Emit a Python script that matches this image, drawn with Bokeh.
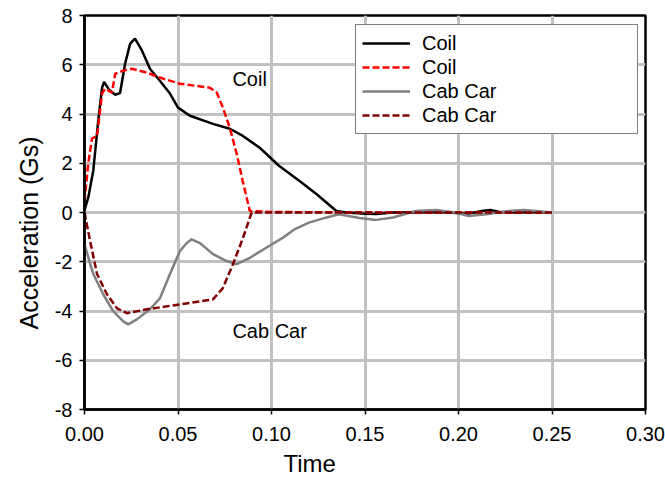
from bokeh.plotting import figure
from bokeh.models import FixedTicker, NumeralTickFormatter, Legend, LegendItem, Label, Title
from bokeh.embed import file_html
from bokeh.resources import INLINE

# Coil (measured, solid)
coil_t = [0, 0.002, 0.0047, 0.0073, 0.0094, 0.0105, 0.013, 0.0164, 0.019, 0.0217, 0.0244, 0.027,
          0.0307, 0.035, 0.0403, 0.0457, 0.05, 0.0564, 0.0687, 0.0777, 0.0847, 0.0937, 0.104, 0.115,
          0.124, 0.1347, 0.14, 0.15, 0.156, 0.165, 0.175, 0.185, 0.195, 0.205, 0.2125, 0.217, 0.222,
          0.23, 0.24, 0.25]
coil_a = [0.1, 0.6, 1.7, 3.7, 5.07, 5.3, 5.0, 4.78, 4.85, 6.04, 6.86, 7.06,
          6.58, 5.84, 5.35, 4.83, 4.26, 3.93, 3.6, 3.4, 3.11, 2.63, 1.9, 1.28,
          0.75, 0.06, 0.0, -0.05, -0.06, 0.0, 0.0, 0.02, 0.0, -0.05, 0.06, 0.1, 0.02,
          0.0, 0.02, 0.0]

# Coil (model, dashed)
coil2_t = [0, 0.002, 0.004, 0.0067, 0.0094, 0.011, 0.0147, 0.0164, 0.0207, 0.0254, 0.0334, 0.0403,
           0.051, 0.067, 0.0707, 0.074, 0.0777, 0.0814, 0.0846, 0.0884, 0.1, 0.15, 0.2, 0.25]
coil2_a = [0.45, 2.0, 3.0, 3.1, 4.83, 5.03, 4.87, 5.63, 5.76, 5.84, 5.68, 5.48,
           5.23, 5.07, 4.87, 4.26, 3.44, 2.38, 1.28, 0.06, 0.02, 0.0, 0.0, 0.0]

# Cab Car (measured, solid)
cab_t = [0, 0.0047, 0.01, 0.0153, 0.0207, 0.0234, 0.028, 0.035, 0.0403, 0.0457, 0.051, 0.0547,
         0.0573, 0.0617, 0.0687, 0.076, 0.0814, 0.0884, 0.0972, 0.106, 0.112, 0.120, 0.129, 0.136,
         0.147, 0.156, 0.165, 0.177, 0.188, 0.198, 0.2056, 0.216, 0.225, 0.235, 0.243, 0.25]
cab_a = [-1.3, -2.5, -3.32, -4.0, -4.42, -4.54, -4.34, -3.93, -3.49, -2.5, -1.57, -1.24,
         -1.09, -1.24, -1.69, -1.97, -2.1, -1.84, -1.43, -1.03, -0.7, -0.41, -0.21, -0.07,
         -0.22, -0.3, -0.2, 0.06, 0.1, 0.0, -0.14, -0.06, 0.05, 0.1, 0.05, 0.0]

# Cab Car (model, dashed)
cab2_t = [0, 0.003, 0.0067, 0.012, 0.0174, 0.0227, 0.0334, 0.051, 0.0687, 0.074, 0.0794, 0.0847,
          0.0894, 0.1, 0.15, 0.2, 0.25]
cab2_a = [0, -1.16, -2.5, -3.32, -3.89, -4.09, -3.93, -3.73, -3.53, -3.07, -2.1, -1.04,
          0.0, 0.0, 0.0, 0.0, 0.0]

x_ticks = [0, 0.05, 0.10, 0.15, 0.20, 0.25, 0.30]
y_ticks = [-8, -6, -4, -2, 0, 2, 4, 6, 8]

FONT = "Liberation Sans"

p = figure(width=665, height=482, x_range=(0, 0.3), y_range=(-8, 8),
           output_backend="svg", toolbar_location=None,
           min_border_left=84, min_border_right=20, min_border_top=15, min_border_bottom=73)

p.background_fill_color = "white"
p.border_fill_color = "white"
p.outline_line_color = "black"
p.outline_line_width = 2.5

for g in (p.xgrid, p.ygrid):
    g.grid_line_color = "#c0c0c0"
    g.grid_line_width = 3

p.xaxis.ticker = FixedTicker(ticks=x_ticks)
p.yaxis.ticker = FixedTicker(ticks=y_ticks)
p.xgrid.ticker = FixedTicker(ticks=x_ticks)
p.ygrid.ticker = FixedTicker(ticks=y_ticks)
p.xaxis.formatter = NumeralTickFormatter(format="0.00")
p.yaxis.formatter = NumeralTickFormatter(format="0")

for ax in (p.xaxis, p.yaxis):
    ax.axis_line_color = "black"
    ax.axis_line_width = 2.5
    ax.major_tick_line_color = "black"
    ax.major_tick_line_width = 1.5
    ax.major_tick_out = 5
    ax.major_tick_in = 0
    ax.minor_tick_line_color = None
    ax.major_label_text_font = FONT
    ax.major_label_text_font_size = "20px"
    ax.major_label_text_color = "black"

p.xaxis.major_label_standoff = 12
p.yaxis.major_label_standoff = 7

# Axis titles as side-panel titles (off-centre, like the reference)
t_x = Title(text="Time", align="left", offset=199, vertical_align="bottom", standoff=8,
            text_font=FONT, text_font_size="24px", text_font_style="normal", text_color="black")
p.add_layout(t_x, "below")
t_y = Title(text="Acceleration (Gs)", align="left", offset=80, vertical_align="middle", standoff=16,
            text_font=FONT, text_font_size="25px", text_font_style="normal", text_color="black")
p.add_layout(t_y, "left")

r1 = p.line(coil_t, coil_a, line_color="black", line_width=2.5)
r2 = p.line(coil2_t, coil2_a, line_color="#ff0000", line_width=2.5, line_dash="7 3")
r3 = p.line(cab_t, cab_a, line_color="#808080", line_width=2.5)
r4 = p.line(cab2_t, cab2_a, line_color="#800000", line_width=2.5, line_dash="7 3")

p.add_layout(Label(x=0.0791, y=5.44, text="Coil", text_font=FONT, text_font_size="20px",
                   text_baseline="middle", text_align="left", text_color="black"))
p.add_layout(Label(x=0.0791, y=-4.83, text="Cab Car", text_font=FONT, text_font_size="20px",
                   text_baseline="middle", text_align="left", text_color="black"))

legend = Legend(items=[
    LegendItem(label="Coil", renderers=[r1]),
    LegendItem(label="Coil", renderers=[r2]),
    LegendItem(label="Cab Car", renderers=[r3]),
    LegendItem(label="Cab Car", renderers=[r4]),
], location=(271, 275))
legend.label_text_font = FONT
legend.label_text_font_size = "20px"
legend.label_text_color = "black"
legend.glyph_width = 48
legend.glyph_height = 24
legend.label_height = 24
legend.label_width = 209
legend.label_standoff = 12
legend.spacing = 0
legend.padding = 6
legend.margin = 0
legend.border_line_color = "black"
legend.border_line_width = 1.5
legend.background_fill_color = "white"
legend.background_fill_alpha = 1.0
p.add_layout(legend, "center")

open("out.html", "w").write(file_html(p, INLINE))
